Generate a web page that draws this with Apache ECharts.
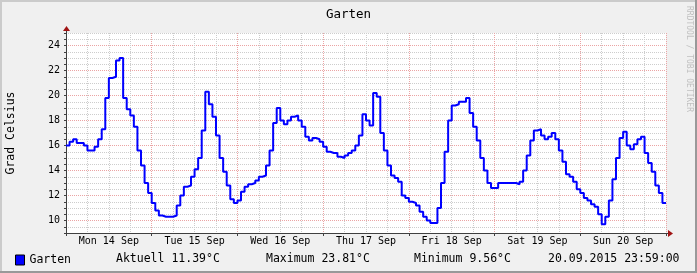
<!DOCTYPE html>
<html><head><meta charset="utf-8">
<script src="https://cdn.jsdelivr.net/npm/echarts@6/dist/echarts.min.js"></script>
<style>html,body{margin:0;padding:0;background:#f0f0f0}#c{width:697px;height:273px}</style>
</head><body><div id="c"></div>
<script>
// ---- data ----
const chartTitle = 'Garten';
const yAxisName = 'Grad Celsius';
const watermark = 'RRDTOOL / TOBI OETIKER';
const dayLabels = ['Mon 14 Sep', 'Tue 15 Sep', 'Wed 16 Sep', 'Thu 17 Sep', 'Fri 18 Sep', 'Sat 19 Sep', 'Sun 20 Sep'];
const yTickLabels = [10, 12, 14, 16, 18, 20, 22, 24];
// hourly temperatures (°C), one array per day, 00:00 .. 23:00
const mon = [16.0, 16.3, 16.5, 16.2, 16.2, 16.0, 15.6, 15.6, 15.9, 16.5, 17.3, 19.8, 21.4, 21.5, 22.8, 23.0, 19.8, 18.9, 18.4, 17.5, 15.6, 14.4, 13.0, 12.2];
const tue = [11.4, 10.8, 10.4, 10.3, 10.3, 10.3, 10.4, 11.2, 12.0, 12.7, 12.8, 13.5, 14.1, 15.0, 17.2, 20.3, 19.3, 18.3, 16.8, 15.0, 13.9, 12.8, 11.7, 11.4];
const wed = [11.6, 12.3, 12.7, 12.9, 13.0, 13.2, 13.5, 13.6, 14.4, 15.6, 17.8, 19.0, 18.0, 17.7, 18.0, 18.3, 18.4, 18.0, 17.5, 16.7, 16.4, 16.6, 16.5, 16.3];
const thu = [15.9, 15.5, 15.4, 15.4, 15.1, 15.0, 15.2, 15.4, 15.6, 16.0, 16.8, 18.5, 18.0, 17.6, 20.2, 19.9, 17.0, 15.6, 14.4, 13.6, 13.4, 13.1, 12.0, 11.8];
const fri = [11.5, 11.4, 11.2, 10.7, 10.3, 10.0, 9.8, 9.8, 11.0, 13.0, 15.5, 18.0, 19.2, 19.3, 19.5, 19.5, 19.8, 18.6, 17.5, 16.4, 15.0, 14.0, 13.0, 12.6];
const sat = [12.6, 13.0, 13.0, 13.0, 13.0, 13.0, 12.9, 13.1, 14.0, 15.2, 16.4, 17.2, 17.3, 16.8, 16.5, 16.7, 17.0, 16.5, 15.6, 14.7, 13.7, 13.5, 13.1, 12.5];
const sun = [12.2, 11.8, 11.6, 11.3, 11.1, 10.5, 9.7, 10.3, 11.6, 13.3, 15.0, 16.6, 17.1, 16.0, 15.7, 16.1, 16.5, 16.7, 15.4, 14.6, 13.9, 12.8, 12.2, 11.4];
const seriesName = 'Garten';
const statCurrent = '11.39';
const statMax = '23.81';
const statMin = '9.56';
const lastUpdate = '20.09.2015 23:59:00';

// ---- build ----
const hourly = [].concat(mon, tue, wed, thu, fri, sat, sun);
const points = hourly.map((v, i) => [i, v]);
points.push([hourly.length, hourly[hourly.length - 1]]);

const mono = 'DejaVu Sans Mono';
const axisColor = '#404040';
const minorGrid = '#cdcdcd';
const majorGrid = '#eba4a4';
const arrowColor = '#a01414';

const chart = echarts.init(document.getElementById('c'), null, {renderer: 'canvas'});
const GL = 66, GT = 33, GW = 600, GH = 200;

chart.setOption({
  backgroundColor: '#f0f0f0',
  animation: false,
  title: {text: chartTitle, left: 'center', top: 3,
    textStyle: {fontFamily: mono, fontSize: 12.5, fontWeight: 'normal', color: '#000'}},
  grid: {left: GL, top: GT, width: GW, height: GH, show: true, backgroundColor: '#ffffff', borderWidth: 0},
  legend: {data: [seriesName], left: 10, top: 249, itemWidth: 9, itemHeight: 10, icon: 'rect', itemGap: 5,
    textStyle: {fontFamily: mono, fontSize: 11.5, color: '#000'},
    itemStyle: {borderColor: '#000', borderWidth: 1}},
  xAxis: [
    {type: 'value', min: 0, max: hourly.length, interval: 6,
      axisLine: {show: true, lineStyle: {color: axisColor, width: 1}},
      axisTick: {show: false}, axisLabel: {show: false},
      splitLine: {show: true, lineStyle: {color: [majorGrid, minorGrid, minorGrid, minorGrid], type: [1, 1], width: 1}}},
    {type: 'category', data: dayLabels, boundaryGap: true, position: 'bottom',
      axisLine: {show: false},
      axisTick: {show: true, interval: 0, length: 3, lineStyle: {color: axisColor}},
      axisLabel: {margin: 3, fontFamily: mono, fontSize: 10, color: '#000'},
      splitLine: {show: false}}
  ],
  yAxis: [{type: 'value', min: 9, max: 25, interval: 1,
    axisLine: {show: true, lineStyle: {color: axisColor, width: 1}},
    axisTick: {show: true, length: 2, lineStyle: {color: axisColor}},
    minorTick: {show: true, splitNumber: 2, length: 2, lineStyle: {color: axisColor}},
    axisLabel: {margin: 6, fontFamily: mono, fontSize: 10, color: '#000',
      formatter: v => yTickLabels.indexOf(v) >= 0 ? String(v) : ''},
    splitLine: {show: true, lineStyle: {color: [minorGrid, majorGrid], type: [1, 1], width: 1}},
    minorSplitLine: {show: true, lineStyle: {color: minorGrid, type: [1, 1], width: 1}}
  }],
  series: [{
    name: seriesName, type: 'line', xAxisIndex: 0, yAxisIndex: 0,
    data: points, step: 'end', showSymbol: false, symbol: 'none',
    lineStyle: {color: '#0000ff', width: 2}, itemStyle: {color: '#0000ff'}, z: 10
  }],
  graphic: [
    {type: 'text', x: 11, y: GT + GH / 2, rotation: Math.PI / 2,
      style: {text: yAxisName, font: '11.5px "DejaVu Sans Mono"', fill: '#000', align: 'center', verticalAlign: 'middle'}},
    {type: 'text', x: 689, y: 59, rotation: -Math.PI / 2,
      style: {text: watermark, font: '8px "DejaVu Sans Mono"', fill: '#c0c0c0', align: 'center', verticalAlign: 'middle'}},
    {type: 'text', x: 116, y: 259, style: {text: 'Aktuell ' + statCurrent + '°C', font: '11.5px "DejaVu Sans Mono"', fill: '#000', verticalAlign: 'middle'}},
    {type: 'text', x: 266, y: 259, style: {text: 'Maximum ' + statMax + '°C', font: '11.5px "DejaVu Sans Mono"', fill: '#000', verticalAlign: 'middle'}},
    {type: 'text', x: 414, y: 259, style: {text: 'Minimum ' + statMin + '°C', font: '11.5px "DejaVu Sans Mono"', fill: '#000', verticalAlign: 'middle'}},
    {type: 'text', x: 548, y: 259, style: {text: lastUpdate, font: '11.5px "DejaVu Sans Mono"', fill: '#000', verticalAlign: 'middle'}},
    // axis extensions and arrows
    {type: 'line', shape: {x1: GL + GW, y1: GT + GH + 0.5, x2: GL + GW + 3, y2: GT + GH + 0.5}, style: {stroke: axisColor, lineWidth: 1}},
    {type: 'polygon', shape: {points: [[GL + GW + 2, GT + GH - 3], [GL + GW + 7, GT + GH + 0.5], [GL + GW + 2, GT + GH + 4]]}, style: {fill: arrowColor}},
    {type: 'line', shape: {x1: GL + 0.5, y1: GT, x2: GL + 0.5, y2: GT - 3}, style: {stroke: axisColor, lineWidth: 1}},
    {type: 'polygon', shape: {points: [[GL - 3, GT - 2], [GL + 0.5, GT - 7], [GL + 4, GT - 2]]}, style: {fill: arrowColor}},
    // frame
    {type: 'rect', shape: {x: 0, y: 0, width: 697, height: 2}, style: {fill: '#cbcbcb'}},
    {type: 'rect', shape: {x: 0, y: 0, width: 2, height: 273}, style: {fill: '#cbcbcb'}},
    {type: 'rect', shape: {x: 0, y: 271, width: 697, height: 2}, style: {fill: '#999999'}},
    {type: 'rect', shape: {x: 695, y: 0, width: 2, height: 273}, style: {fill: '#999999'}}
  ]
});
</script>
</body></html>
